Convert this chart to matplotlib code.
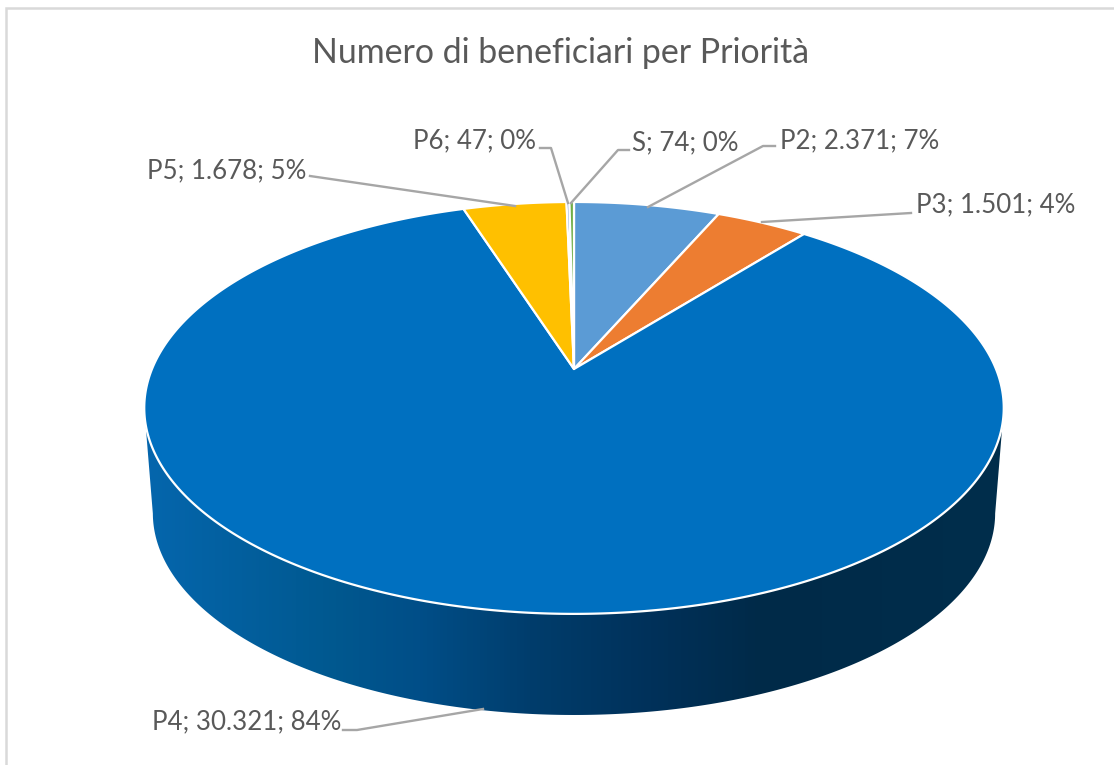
"""Numero di beneficiari per Priorita: 3D-looking pie drawn with plain patches."""

import matplotlib
matplotlib.use("Agg")
import matplotlib.pyplot as plt  # noqa: E402
import numpy as np  # noqa: E402
from matplotlib.colors import LinearSegmentedColormap  # noqa: E402
from matplotlib.patches import Polygon  # noqa: E402

TITLE = "Numero di beneficiari per Priorità"
NAMES = ["P2", "P3", "P4", "P5", "P6", "S"]
VALUES = [2371, 1501, 30321, 1678, 47, 74]
COLORS = ["#5B9BD5", "#ED7D31", "#0070C0", "#FFC000", "#4472C4", "#70AD47"]

# label left edge and vertical centre, then the leader line, in pixels
LABEL_POS = {"P2": (780, 141), "P3": (916, 205), "P4": (152, 722),
             "P5": (147, 171), "P6": (413, 141), "S": (632, 143)}
LEADERS = {
    "P2": [(775, 146), (763, 146), (648, 207)],
    "P3": [(911, 213), (762, 222)],
    "P4": [(343, 730), (357, 730), (483, 709)],
    "P5": [(310, 176), (515, 206)],
    "P6": [(540, 148), (551, 148), (568, 203)],
    "S": [(629, 150), (618, 150), (571, 203)],
}

TEXT = "#595959"
LINE = "#A6A6A6"
FONT = "Lato"

# side shading, left to right across the pie
SIDE_AT = [0, 0.22, 0.32, 0.45, 0.59, 0.72, 1]
SIDE_COLORS = ["#0566AD", "#00588F", "#004E88", "#003D6C", "#00315A", "#002A48", "#002E4C"]

# top face: apex of the slices and a perspective squeeze of the unit circle
CX, CY = 574, 369
A, B, K = 422, 198.6, 0.189
DEPTH_Y, DEPTH_S = 106, 0.98


def rim(theta, cy=CY, scale=1.0):
    u, v = np.sin(theta), np.cos(theta)
    d = 1 + K * v
    return CX + scale * A * u / d, cy - scale * B * v / d


def fmt(n):
    return f"{n:,}".replace(",", ".")


fig = plt.figure(figsize=(11.14, 7.65), dpi=100)
ax = fig.add_axes([0, 0, 1, 1])
ax.set_xlim(0, 1114)
ax.set_ylim(765, 0)
ax.axis("off")

# chart frame, only left and top show in the crop
ax.plot([6, 6, 1114], [765, 8, 8], color="#D9D9D9", lw=1.8, solid_joinstyle="miter")

# side wall
t = np.linspace(0, 2 * np.pi, 721)
tx, ty = rim(t)
bx, by = rim(t, CY + DEPTH_Y, DEPTH_S)
r, l = np.argmax(bx), np.argmin(bx)
bottom = np.column_stack([bx[r:l + 1], by[r:l + 1]])
top_tr = np.argmin(np.abs(t - np.deg2rad(101)))
top_tl = np.argmin(np.abs(t - np.deg2rad(259)))
wall = np.vstack([[tx[top_tr], ty[top_tr]], bottom, [tx[top_tl], ty[top_tl]]])
clip = Polygon(np.vstack([wall, [[CX, CY]]]), closed=True, transform=ax.transData, fc="none", ec="none")
ax.add_patch(clip)
cmap = LinearSegmentedColormap.from_list("side", list(zip(SIDE_AT, SIDE_COLORS)))
im = ax.imshow(np.linspace(0, 1, 256)[None, :], cmap=cmap, extent=(145, 1003, 765, 300),
               aspect="auto", zorder=2)
im.set_clip_path(clip)
ax.set_xlim(0, 1114)
ax.set_ylim(765, 0)

# top face
cum = np.cumsum([0] + VALUES) / sum(VALUES) * 2 * np.pi
for i, color in enumerate(COLORS):
    th = np.linspace(cum[i], cum[i + 1], max(3, int((cum[i + 1] - cum[i]) * 150)))
    x, y = rim(th)
    pts = np.vstack([[CX, CY], np.column_stack([x, y])])
    ax.add_patch(Polygon(pts, closed=True, fc=color, ec="white", lw=1.6, zorder=3, joinstyle="round"))

# labels and leaders
for name, value in zip(NAMES, VALUES):
    pct = round(100 * value / sum(VALUES))
    lx, ly = LABEL_POS[name]
    ax.text(lx, ly, f"{name}; {fmt(value)}; {pct}%", fontsize=18.6, family=FONT, color=TEXT,
            ha="left", va="center", zorder=5)
    px, py = zip(*LEADERS[name])
    ax.plot(px, py, color=LINE, lw=1.7, zorder=4)

ax.text(561, 53, TITLE, fontsize=24.4, family=FONT, color=TEXT, ha="center", va="center", zorder=5)

fig.savefig("out.png", dpi=100)
